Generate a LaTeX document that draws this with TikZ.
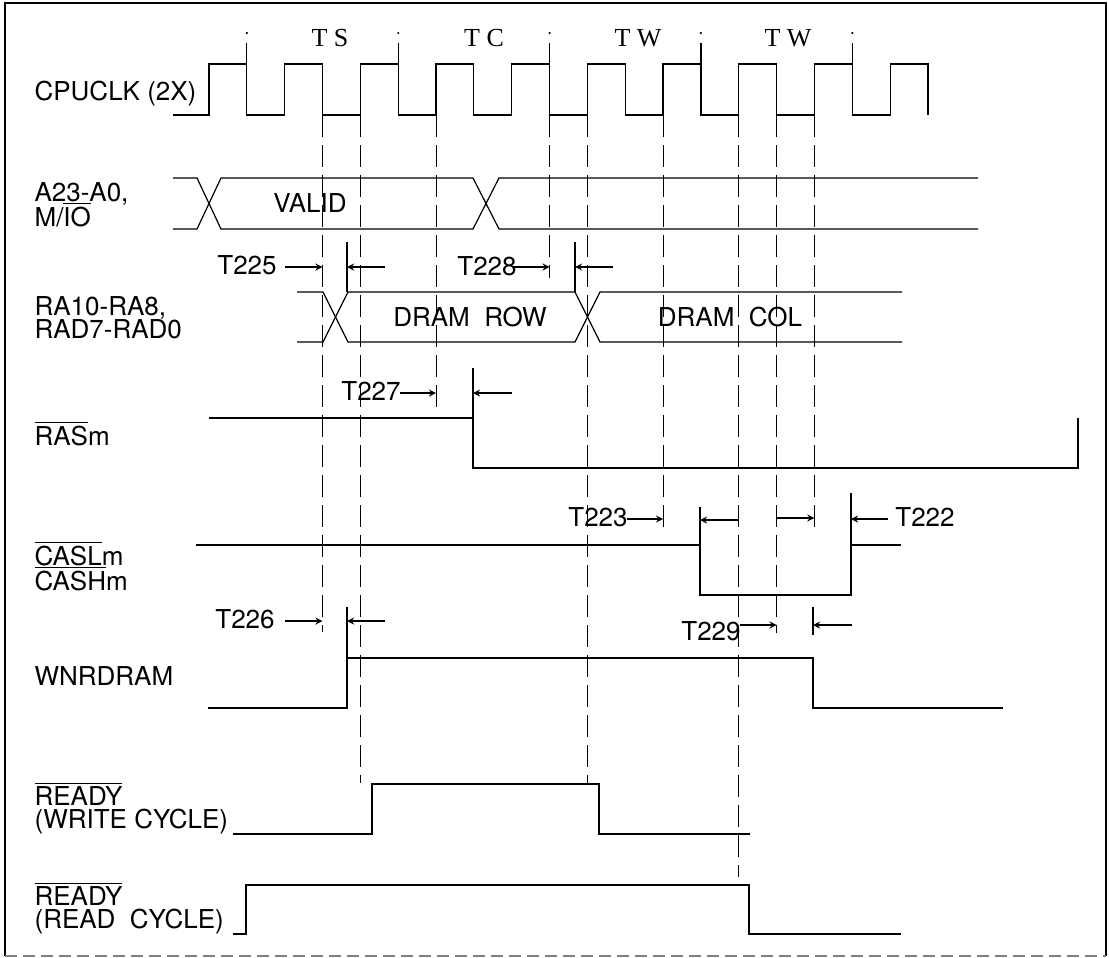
\documentclass[tikz,border=0pt]{standalone}
\usepackage{fontspec}
\setmainfont{TeX Gyre Heros}
\newfontfamily\tsfont{Liberation Serif}
\newcommand{\nbar}[1]{$\overline{\hbox{#1}}$}

\begin{document}
\begin{tikzpicture}[x=0.5pt, y=-0.5pt, >=stealth, line width=0.6pt,
  font=\fontsize{13}{13}\selectfont,
  guide/.style={line width=0.5pt, dash pattern=on 11pt off 4pt},
  lbl/.style={inner sep=0pt, anchor=base west},
  tlbl/.style={inner sep=0pt},
  tstate/.style={inner sep=0pt, font=\fontsize{13}{13}\selectfont\tsfont}]
  \useasboundingbox (0,0) rectangle (1109,958);

  % frame
  \draw[line width=1pt] (5,956) -- (5,3) -- (1106,3) -- (1106,956);
  \draw[line width=1pt, gray, dash pattern=on 6pt off 3pt] (5,956) -- (1106,956);

  % CPUCLK (2X)
  \draw (173,115) \foreach \k in {0,2,...,18} {
    -- (209+37.84*\k,115) -- (209+37.84*\k,64)
    -- (246.84+37.84*\k,64) -- (246.84+37.84*\k,115) };
  \foreach \x in {246.8,398.2,549.6,700.9,852.3} {
    \draw (\x,43) -- (\x,64);
    \fill (\x,33) circle (0.6pt);
  }
  \node[tstate] (ts) at (330,38) {T S};
  \node[tstate] (tc) at (484,38) {T C};
  \node[tstate] (tw1) at (638,38) {T W};
  \node[tstate] (tw2) at (788,38) {T W};

  % dashed guides
  \foreach \x/\y in {322.5/632, 360.4/783, 436/407, 549.6/278, 587.4/784,
                     663.1/532, 738.8/877, 776.6/633, 814.4/530}
    \draw[guide] (\x,115) -- (\x,\y);

  % address bus
  \draw (173,178) -- (197,178) -- (221,229) -- (473,229) -- (499,178) -- (978,178);
  \draw (173,229) -- (197,229) -- (221,178) -- (473,178) -- (499,229) -- (978,229);
  \node[tlbl] (valid) at (310,203) {VALID};

  % row / column bus
  \draw (297,292) -- (323,292) -- (348,342) -- (575,342) -- (600,292) -- (902,292);
  \draw (297,342) -- (323,342) -- (348,292) -- (575,292) -- (600,342) -- (902,342);
  \node[tlbl] (row) at (470,317) {DRAM~~ROW};
  \node[tlbl] (col) at (730,317) {DRAM~~COL};

  % RASm
  \draw (209,418) -- (473,418) -- (473,468) -- (1078,468) -- (1078,418);
  % CASLm / CASHm
  \draw (196,545) -- (700,545) -- (700,595) -- (851,595) -- (851,545) -- (901,545);
  % WNRDRAM
  \draw (208,708) -- (347,708) -- (347,658) -- (813,658) -- (813,708) -- (1003,708);
  % READY, write and read
  \draw (233,834) -- (372,834) -- (372,784) -- (599,784) -- (599,834) -- (750,834);
  \draw (233,934) -- (246,934) -- (246,885) -- (749,885) -- (749,934) -- (901,934);

  % timing marks
  \node[tlbl] (t225) at (247,265) {T225};
  \draw[->] (285,267) -- (322.5,267);
  \draw (347,242) -- (347,292);
  \draw[->] (385,267) -- (347,267);

  \node[tlbl] (t228) at (487,266) {T228};
  \draw[->] (513,267) -- (549.6,267);
  \draw (575,242) -- (575,292);
  \draw[->] (613,267) -- (575,267);

  \node[tlbl] (t227) at (371,391) {T227};
  \draw[->] (400,393) -- (436,393);
  \draw (473,368) -- (473,418);
  \draw[->] (512,393) -- (473,393);

  \node[tlbl] (t223) at (598,517) {T223};
  \draw[->] (627,519) -- (663.1,519);
  \draw (700,507) -- (700,545);
  \draw[->] (738,520) -- (700,520);
  \draw[->] (776,518) -- (814.4,518);
  \draw (851,493) -- (851,545);
  \draw[->] (888,519) -- (851,519);
  \node[tlbl] (t222) at (925,517) {T222};

  \node[tlbl] (t226) at (245,619) {T226};
  \draw[->] (285,621) -- (322.5,621);
  \draw (347,607) -- (347,658);
  \draw[->] (385,621) -- (347,621);

  \node[tlbl] (t229) at (711,631) {T229};
  \draw[->] (740,625) -- (776.6,625);
  \draw (813,607) -- (813,635);
  \draw[->] (852,625) -- (813,625);

  % signal names
  \node[lbl] (clkL) at (34,100) {CPUCLK (2X)};
  \node[lbl] (adrL) at (34,201) {A23-A0,};
  \node[lbl] (adrL2) at (34,226) {M/\nbar{IO}};
  \node[lbl] (raL) at (34,315) {RA10-RA8,};
  \node[lbl] (raL2) at (34,338) {RAD7-RAD0};
  \node[lbl] (rasL) at (34,445) {\nbar{RAS}m};
  \node[lbl] (casL) at (34,565) {\nbar{CASL}m};
  \node[lbl] (casL2) at (34,590) {\nbar{CASH}m};
  \node[lbl] (wnrL) at (34,685) {WNRDRAM};
  \node[lbl] (rdywL) at (34,805) {\nbar{READY}};
  \node[lbl] (rdywL2) at (34,828) {(WRITE CYCLE)};
  \node[lbl] (rdyrL) at (34,905) {\nbar{READY}};
  \node[lbl] (rdyrL2) at (34,928) {(READ\ \ CYCLE)};
\end{tikzpicture}
\end{document}
